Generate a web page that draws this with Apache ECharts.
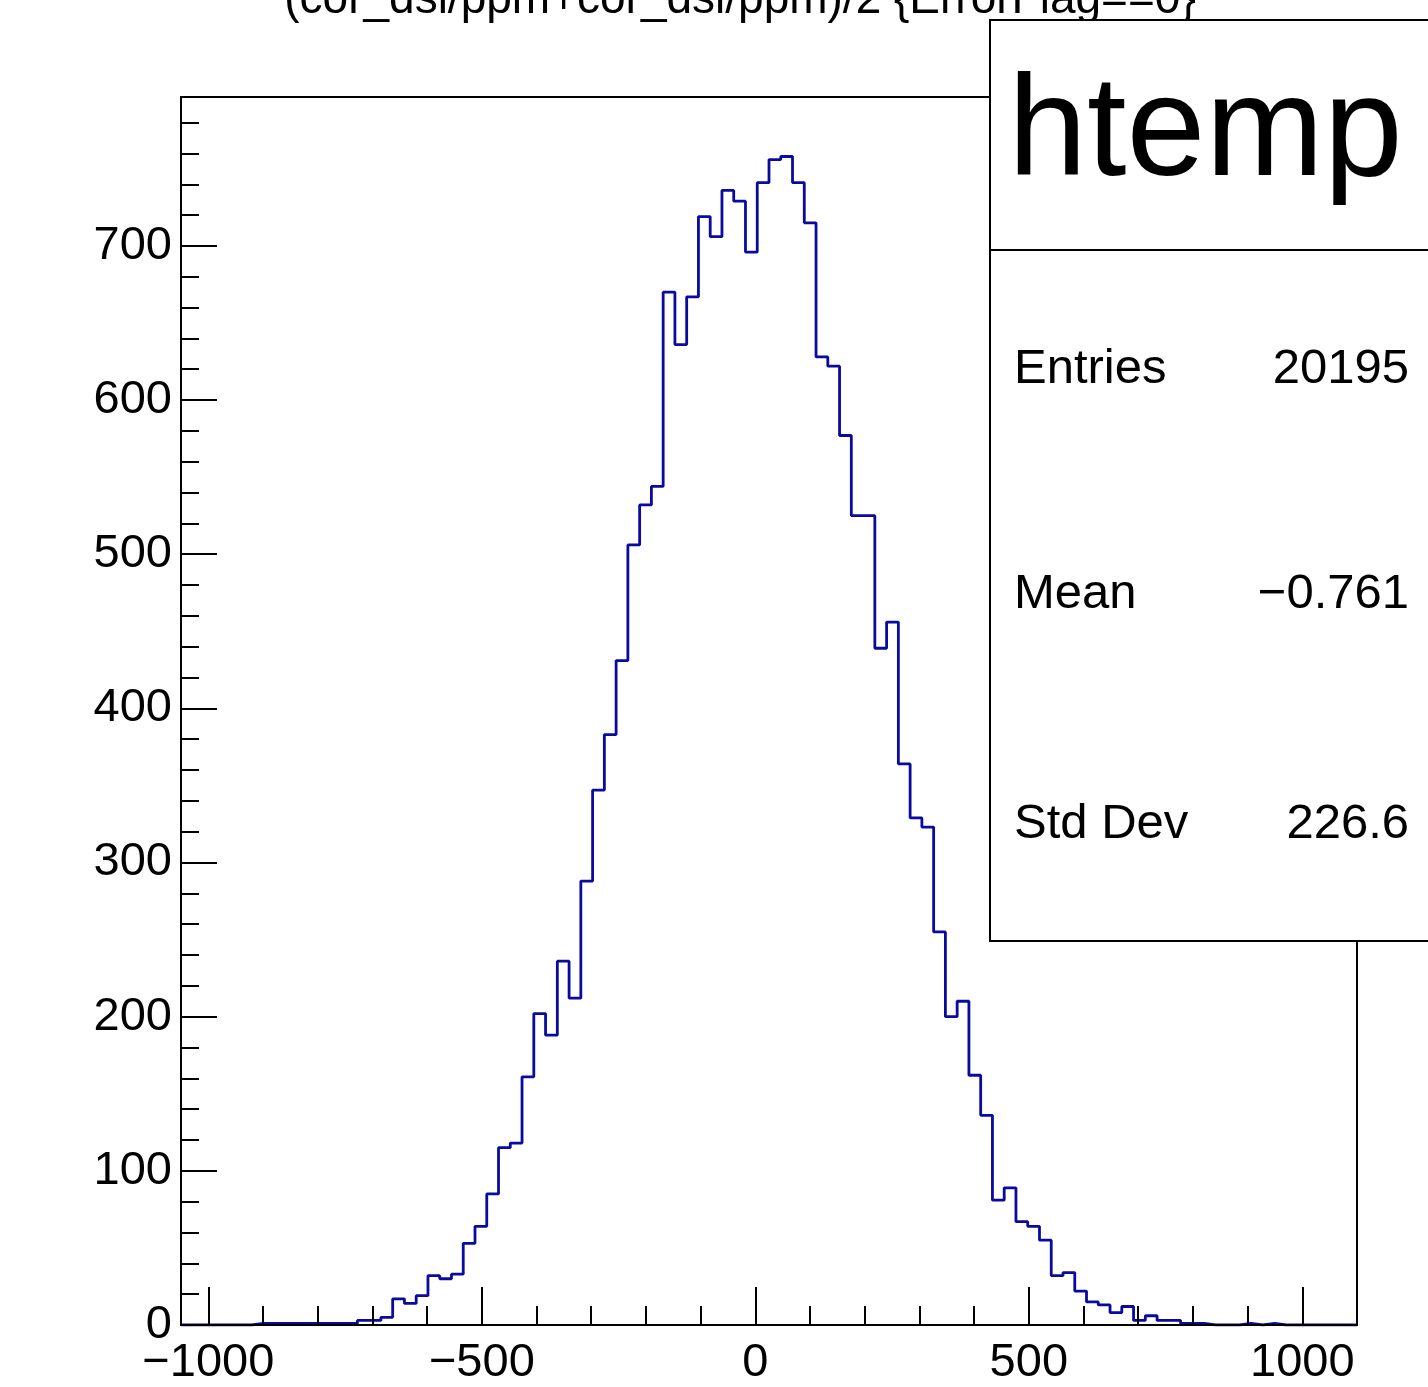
<!DOCTYPE html>
<html>
<head>
<meta charset="utf-8">
<script src="https://cdn.jsdelivr.net/npm/echarts@6/dist/echarts.min.js"></script>
<style>
html,body{margin:0;padding:0;background:#fff;}
#chart{width:1428px;height:1387px;}
</style>
</head>
<body>
<div id="chart"></div>
<script>
// ---- data ----
const titleText = '(cor_dsl/ppm+cor_dsl/ppm)/2 {ErrorFlag==0}';
const histName = 'htemp';
const xExtent = [-1050, 1100];
const yExtent = [0, 796.6];
const binStart = -1050;
const binWidth = 21.5;
const counts = [
  0,0,0,0,0,0,1,1,1,1,
  1,1,1,1,1,3,3,5,17,14,
  19,32,30,33,53,64,85,115,118,161,
  202,188,236,212,288,347,383,431,506,532,
  544,670,636,667,719,706,736,729,696,741,
  756,758,741,715,628,622,577,525,525,439,
  456,364,329,323,255,200,210,162,136,81,
  89,67,64,55,32,34,22,15,13,8,
  12,3,6,3,3,1,1,0,0,0,
  1,0,1,0,0,0,0,0,0,0
];
const xMajorTicks = [-1000, -500, 0, 500, 1000];
const xTickLabels = ['\u22121000', '\u2212500', '0', '500', '1000'];
const xMinorTicks = [-1000,-900,-800,-700,-600,-500,-400,-300,-200,-100,0,100,200,300,400,500,600,700,800,900,1000];
const yMajorTicks = [0, 100, 200, 300, 400, 500, 600, 700];
const yTickLabels = ['0', '100', '200', '300', '400', '500', '600', '700'];
const yMinorTicks = [20,40,60,80,120,140,160,180,220,240,260,280,320,340,360,380,420,440,460,480,520,540,560,580,620,640,660,680,720,740,760,780];
const statsLabels = ['Entries', 'Mean', 'Std Dev'];
const statsValues = ['20195', '\u22120.761', '226.6'];

// ---- build ----
const FONT = "'Liberation Sans', Arial, Helvetica, sans-serif";
const histPoints = counts.map((c, i) => [binStart + i * binWidth, c]);
histPoints.push([binStart + counts.length * binWidth, counts[counts.length - 1]]);

const xLabelMap = {};
xMajorTicks.forEach((v, i) => { xLabelMap[v] = xTickLabels[i]; });
const yLabelMap = {};
yMajorTicks.forEach((v, i) => { yLabelMap[v] = yTickLabels[i]; });

const chart = echarts.init(document.getElementById('chart'), null, {renderer: 'canvas'});

const statsY = [369.8, 594.8, 824.8];
const graphics = [
  {type: 'text', z: 100, style: {text: titleText, x: 740, y: 0.5, font: '46px ' + FONT, fill: '#000', align: 'center', verticalAlign: 'middle'}},
  {type: 'rect', z: 100, shape: {x: 990, y: 20, width: 480, height: 921}, style: {fill: '#fff', stroke: '#000', lineWidth: 2}},
  {type: 'line', z: 101, shape: {x1: 990, y1: 250, x2: 1440, y2: 250}, style: {stroke: '#000', lineWidth: 2}},
  {type: 'text', z: 101, style: {text: histName, x: 1008, y: 135.8, font: '142px ' + FONT, fill: '#000', align: 'left', verticalAlign: 'middle'}}
];
statsLabels.forEach((lab, i) => {
  graphics.push({type: 'text', z: 101, style: {text: lab, x: 1014, y: statsY[i], font: '49px ' + FONT, fill: '#000', align: 'left', verticalAlign: 'middle'}});
  graphics.push({type: 'text', z: 101, style: {text: statsValues[i], x: 1409, y: statsY[i], font: '49px ' + FONT, fill: '#000', align: 'right', verticalAlign: 'middle'}});
});

const option = {
  backgroundColor: '#fff',
  animation: false,
  grid: {left: 181, top: 97, width: 1176, height: 1229, show: true, borderColor: '#000', borderWidth: 2, backgroundColor: 'transparent', containLabel: false},
  xAxis: [
    {
      type: 'value', min: xExtent[0], max: xExtent[1], position: 'bottom', offset: 0, z: 10,
      axisLine: {show: true, onZero: false, lineStyle: {color: '#000', width: 2}},
      axisTick: {show: true, inside: true, length: 38, lineStyle: {color: '#000', width: 2}, customValues: xMajorTicks},
      axisLabel: {show: true, customValues: xMajorTicks, formatter: v => xLabelMap[v] !== undefined ? xLabelMap[v] : '', fontSize: 47, fontFamily: FONT, color: '#000', margin: 15},
      splitLine: {show: false}
    },
    {
      type: 'value', min: xExtent[0], max: xExtent[1], position: 'bottom', offset: 0, z: 10,
      axisLine: {show: false, onZero: false},
      axisTick: {show: true, inside: true, length: 19, lineStyle: {color: '#000', width: 2}, customValues: xMinorTicks},
      axisLabel: {show: false},
      splitLine: {show: false}
    }
  ],
  yAxis: [
    {
      type: 'value', min: yExtent[0], max: yExtent[1], position: 'left', offset: 0, z: 10,
      axisLine: {show: true, onZero: false, lineStyle: {color: '#000', width: 2}},
      axisTick: {show: true, inside: true, length: 36, lineStyle: {color: '#000', width: 2}, customValues: yMajorTicks},
      axisLabel: {show: true, customValues: yMajorTicks, formatter: v => yLabelMap[v] !== undefined ? yLabelMap[v] : '', fontSize: 47, fontFamily: FONT, color: '#000', margin: 9},
      splitLine: {show: false}
    },
    {
      type: 'value', min: yExtent[0], max: yExtent[1], position: 'left', offset: 0, z: 10,
      axisLine: {show: false, onZero: false},
      axisTick: {show: true, inside: true, length: 18, lineStyle: {color: '#000', width: 2}, customValues: yMinorTicks},
      axisLabel: {show: false},
      splitLine: {show: false}
    }
  ],
  series: [{
    type: 'line',
    name: histName,
    xAxisIndex: 0,
    yAxisIndex: 0,
    step: 'end',
    data: histPoints,
    showSymbol: false,
    symbol: 'none',
    clip: true,
    z: 2,
    lineStyle: {color: '#0a0a9e', width: 2.8}
  }],
  graphic: graphics
};
chart.setOption(option);
</script>
</body>
</html>
